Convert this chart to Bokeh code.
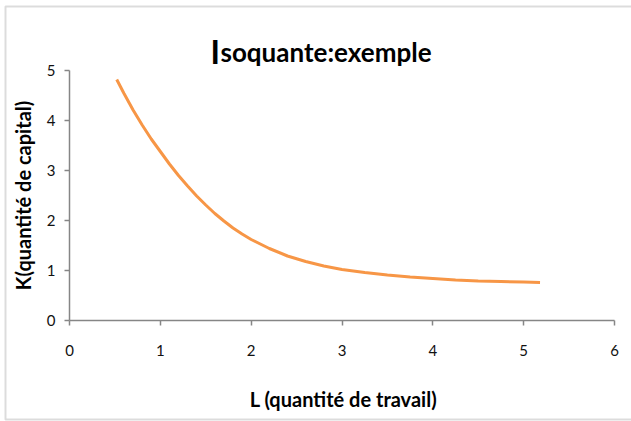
import math
from bokeh.plotting import figure
from bokeh.models import Range1d, Label, BoxAnnotation, FixedTicker
from bokeh.embed import file_html
from bokeh.resources import INLINE

# Data (isoquant curve)
L_values = [0.52, 0.6, 0.7, 0.8, 0.9, 1.0, 1.1, 1.2, 1.3, 1.4, 1.5, 1.6, 1.7, 1.8, 1.9,
            2.0, 2.2, 2.4, 2.6, 2.8, 3.0, 3.25, 3.5, 3.75, 4.0, 4.25, 4.5, 4.75, 5.0, 5.18]
K_values = [4.82, 4.54, 4.21, 3.91, 3.63, 3.38, 3.13, 2.90, 2.69, 2.49, 2.31, 2.14, 1.99, 1.85, 1.73,
            1.62, 1.44, 1.29, 1.18, 1.09, 1.02, 0.96, 0.91, 0.87, 0.84, 0.81, 0.79, 0.78, 0.77, 0.76]
x_ticks = [0, 1, 2, 3, 4, 5, 6]
y_ticks = [0, 1, 2, 3, 4, 5]

title_first = "I"
title_rest = "soquante:exemple"
x_label = "L (quantité de travail)"
y_label = "K(quantité de capital)"

FONT = "Lato"
AXIS_GREY = "#868686"
W, H = 631, 421

# Pixel layout of the plotting area (x: 0..6, y: 0..5)
X0_PX, X6_PX = 69, 614
Y0_PX, Y5_PX = 320, 70
UX = (X6_PX - X0_PX) / 6.0
UY = (Y0_PX - Y5_PX) / 5.0

def dx(px):
    return (px - X0_PX) / UX

def dy(py):
    return (Y0_PX - py) / UY

p = figure(width=W, height=H, output_backend="svg", toolbar_location=None,
           x_range=Range1d(dx(0), dx(W)), y_range=Range1d(dy(H), dy(0)))
p.min_border_left = 0
p.min_border_right = 0
p.min_border_top = 0
p.min_border_bottom = 0
p.outline_line_color = None
p.xgrid.grid_line_color = None
p.ygrid.grid_line_color = None
p.background_fill_color = "white"
p.border_fill_color = "white"

p.line(L_values, K_values, line_color="#F79646", line_width=3)

for ax, ticks in ((p.xaxis[0], x_ticks), (p.yaxis[0], y_ticks)):
    ax.ticker = FixedTicker(ticks=ticks)
    ax.fixed_location = 0
    ax.bounds = (ticks[0], ticks[-1])
    ax.axis_line_color = AXIS_GREY
    ax.axis_line_width = 1.5
    ax.major_tick_line_color = AXIS_GREY
    ax.major_tick_line_width = 1.5
    ax.minor_tick_line_color = None
    ax.major_tick_in = 0
    ax.major_tick_out = 5
    ax.major_label_text_font = FONT
    ax.major_label_text_font_size = "15px"
    ax.major_label_text_color = "#111111"

p.xaxis[0].major_label_standoff = 19
p.yaxis[0].major_label_standoff = 9

# Axis titles
p.add_layout(Label(x=dx(343), y=dy(398), text=x_label, text_font=FONT, text_font_style="bold",
                   text_font_size="20px", text_align="center", text_baseline="middle",
                   text_color="#000000"))
p.add_layout(Label(x=dx(22), y=dy(195), text=y_label, text_font=FONT, text_font_style="bold",
                   text_font_size="20px", text_align="center", text_baseline="middle",
                   angle=math.pi / 2, text_color="#000000"))

# Title with larger first letter
p.add_layout(Label(x=dx(210), y=dy(51), text=title_first, text_font=FONT, text_font_style="bold",
                   text_font_size="32px", text_align="left", text_baseline="alphabetic",
                   text_color="#000000"))
p.add_layout(Label(x=dx(220), y=dy(51), text=title_rest, text_font=FONT, text_font_style="bold",
                   text_font_size="26px", text_align="left", text_baseline="alphabetic",
                   text_color="#000000"))

# Chart area border
p.add_layout(BoxAnnotation(left=dx(5), right=dx(W + 20), top=dy(6), bottom=dy(419),
                           fill_alpha=0, line_color="#8c8c8c", line_width=2))

open("out.html", "w").write(file_html(p, INLINE))
